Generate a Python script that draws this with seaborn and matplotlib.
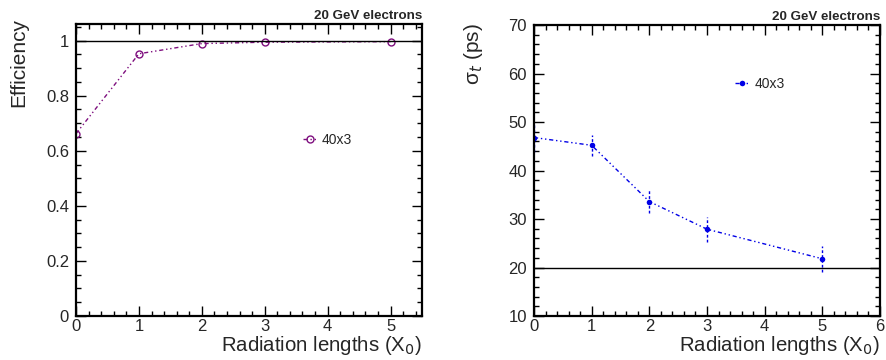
import numpy as np
import pandas as pd
import matplotlib
matplotlib.use("Agg")
import matplotlib.pyplot as plt
from matplotlib.ticker import MultipleLocator
import seaborn as sns

# Data
rad_lengths = [0, 1, 2, 3, 5]
efficiency = [0.662, 0.952, 0.989, 0.994, 0.996]
sigma_t = [46.8, 45.2, 33.6, 27.9, 21.8]
sigma_t_err = [3.0, 2.2, 2.4, 2.6, 2.7]
series_label = "40x3"
title_text = "20 GeV electrons"

eff_ref = 1.0
sigma_ref = 20.0

purple = "#7f0f7f"
blue = "#0000e6"
dashdot = (0, (3, 2, 1, 2, 1, 2))

sns.set_style("ticks")
plt.rcParams["font.family"] = ["Liberation Sans", "DejaVu Sans"]

df = pd.DataFrame({"X0": rad_lengths, "eff": efficiency,
                   "sigma": sigma_t, "err": sigma_t_err})

fig = plt.figure(figsize=(8.86, 3.6), dpi=100)
ax1 = fig.add_axes([0.0858, 0.1222, 0.3905, 0.8111])
ax2 = fig.add_axes([0.6027, 0.1222, 0.3905, 0.8083])


def root_style(ax, xmaj, xmin, ymaj, ymin):
    ax.xaxis.set_major_locator(MultipleLocator(xmaj))
    ax.xaxis.set_minor_locator(MultipleLocator(xmin))
    ax.yaxis.set_major_locator(MultipleLocator(ymaj))
    ax.yaxis.set_minor_locator(MultipleLocator(ymin))
    ax.tick_params(which="both", direction="in", top=True, right=True,
                   width=1.0, labelsize=12, color="black")
    ax.tick_params(which="major", length=7)
    ax.tick_params(which="minor", length=3.5)
    ax.tick_params(axis="x", pad=2)
    ax.tick_params(axis="y", pad=5)
    for s in ax.spines.values():
        s.set_linewidth(1.6)
        s.set_color("black")


# Left: efficiency
sns.lineplot(data=df, x="X0", y="eff", ax=ax1, color=purple, lw=1.0,
             linestyle=dashdot, marker="o", markersize=5,
             markerfacecolor="none", markeredgecolor=purple,
             markeredgewidth=1.0, label=series_label)
ax1.axhline(eff_ref, color="black", lw=1.0)
ax1.set_xlim(0, 5.5)
ax1.set_ylim(0, 1.06)
root_style(ax1, 1, 0.2, 0.2, 0.05)
ax1.set_yticks([0, 0.2, 0.4, 0.6, 0.8, 1.0])
ax1.set_yticklabels(["0", "0.2", "0.4", "0.6", "0.8", "1"])
ax1.set_xlabel("Radiation lengths (X$_{0}$)", fontsize=14.7, loc="right", labelpad=0)
ax1.set_ylabel("Efficiency", fontsize=15, loc="top")
ax1.yaxis.set_label_coords(-0.139, 1.02)
ax1.legend(loc="center left", bbox_to_anchor=(0.635, 0.603), frameon=False,
           handlelength=1.1, handletextpad=0.3, fontsize=10, borderpad=0)
ax1.text(1.0, 1.008, title_text, transform=ax1.transAxes, ha="right",
         va="bottom", fontsize=9.6, fontweight="bold")

# Right: time resolution
sns.lineplot(data=df, x="X0", y="sigma", ax=ax2, color=blue, lw=1.0,
             linestyle=dashdot, marker="o", markersize=4,
             markeredgewidth=0, label=series_label)
eb = ax2.errorbar(df["X0"], df["sigma"], yerr=df["err"], fmt="none",
                  ecolor=blue, elinewidth=1.0)
eb[2][0].set_linestyle((0, (2, 1.5)))
ax2.axhline(sigma_ref, color="black", lw=1.0)
ax2.set_xlim(0, 6)
ax2.set_ylim(10, 70)
root_style(ax2, 1, 0.2, 10, 2)
ax2.set_xlabel("Radiation lengths (X$_{0}$)", fontsize=14.7, loc="right", labelpad=0)
ax2.set_ylabel("σ$_{t}$ (ps)", fontsize=15, loc="top")
ax2.yaxis.set_label_coords(-0.142, 1.007)
ax2.legend(loc="center left", bbox_to_anchor=(0.56, 0.797), frameon=False,
           handlelength=1.1, handletextpad=0.3, fontsize=10, borderpad=0)
ax2.text(1.0, 1.008, title_text, transform=ax2.transAxes, ha="right",
         va="bottom", fontsize=9.6, fontweight="bold")

fig.savefig("out.png", dpi=100)
